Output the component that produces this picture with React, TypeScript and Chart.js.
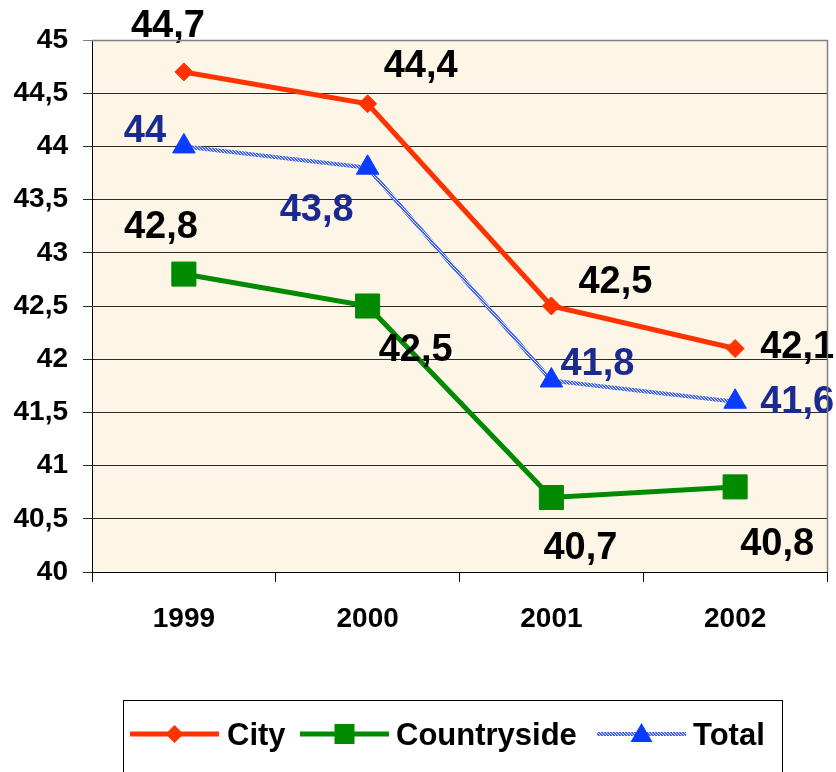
import React, { useEffect, useRef } from "react";
import { Chart, registerables } from "chart.js";

Chart.register(...registerables);

const years = ["1999", "2000", "2001", "2002"];
const cityValues = [44.7, 44.4, 42.5, 42.1];
const countrysideValues = [42.8, 42.5, 40.7, 40.8];
const totalValues = [44, 43.8, 41.8, 41.6];
const seriesNames = ["City", "Countryside", "Total"];
const yTicks = [40, 40.5, 41, 41.5, 42, 42.5, 43, 43.5, 44, 44.5, 45];

// label offsets (dx, baseline dy) relative to each point, in px
const labelOffsets = [
  [[-16, -35], [53, -27], [64, -13], [62, 9]],
  [[-23, -36], [48, 55], [29, 61], [42, 68]],
  [[-39, -4], [-51, 53], [46, -5], [62, 11]],
];
const labelColors = ["#000000", "#000000", "#1b2a8e"];

const FONT = "'Liberation Sans', Arial, sans-serif";

function makePattern(): CanvasPattern | string {
  const c = document.createElement("canvas");
  c.width = 3;
  c.height = 3;
  const g = c.getContext("2d");
  if (!g) return "#7f98f0";
  g.fillStyle = "#3f62f4";
  g.fillRect(0, 0, 3, 3);
  g.fillStyle = "#dfe6fd";
  g.fillRect(0, 0, 1, 1);
  g.fillRect(1, 1, 1, 1);
  g.fillRect(2, 2, 1, 1);
  const p = g.createPattern(c, "repeat");
  return p || "#7f98f0";
}

export default function App() {
  const ref = useRef<HTMLCanvasElement | null>(null);

  useEffect(() => {
    const canvas = ref.current;
    if (!canvas) return;
    const totalPattern = makePattern();

    const bgPlugin = {
      id: "bg",
      beforeDraw(chart: any) {
        const { ctx, chartArea } = chart;
        ctx.save();
        ctx.fillStyle = "#ffffff";
        ctx.fillRect(0, 0, chart.width, chart.height);
        ctx.fillStyle = "#fdf6e7";
        ctx.fillRect(chartArea.left, chartArea.top, chartArea.right - chartArea.left, chartArea.bottom - chartArea.top);
        ctx.restore();
      },
      afterDatasetsDraw(chart: any) {
        const { ctx } = chart;
        ctx.save();
        ctx.font = `bold 38px ${FONT}`;
        ctx.textAlign = "center";
        ctx.textBaseline = "alphabetic";
        chart.data.datasets.forEach((ds: any, di: number) => {
          const meta = chart.getDatasetMeta(di);
          meta.data.forEach((pt: any, i: number) => {
            const v = ds.data[i];
            const [dx, dy] = labelOffsets[di][i];
            ctx.fillStyle = labelColors[di];
            ctx.fillText(String(v).replace(".", ","), pt.x + dx, pt.y + dy);
          });
        });
        ctx.restore();
      },
      afterDraw(chart: any) {
        const { ctx, chartArea } = chart;
        ctx.save();
        // plot frame (top/right)
        ctx.strokeStyle = "#808080";
        ctx.lineWidth = 1.5;
        ctx.beginPath();
        ctx.moveTo(chartArea.left, chartArea.top + 0.5);
        ctx.lineTo(chartArea.right + 0.5, chartArea.top + 0.5);
        ctx.lineTo(chartArea.right + 0.5, chartArea.bottom);
        ctx.stroke();

        // legend
        ctx.strokeStyle = "#000000";
        ctx.lineWidth = 1;
        ctx.strokeRect(123.5, 700.5, 659, 80);
        const ly = 734;
        const lineStarts = [130, 300, 597];
        const lineLen = 89;
        const textStarts = [227, 396, 693];
        chart.data.datasets.forEach((ds: any, di: number) => {
          const x0 = lineStarts[di];
          const x1 = x0 + lineLen;
          const cx = (x0 + x1) / 2;
          ctx.strokeStyle = ds.borderColor;
          ctx.lineWidth = di === 2 ? 4 : 5;
          ctx.beginPath();
          ctx.moveTo(x0, ly);
          ctx.lineTo(x1, ly);
          ctx.stroke();
          ctx.fillStyle = ds.pointBackgroundColor;
          ctx.beginPath();
          if (di === 0) {
            ctx.moveTo(cx, ly - 9);
            ctx.lineTo(cx + 9, ly);
            ctx.lineTo(cx, ly + 9);
            ctx.lineTo(cx - 9, ly);
            ctx.closePath();
          } else if (di === 1) {
            ctx.rect(cx - 10, ly - 10, 20, 20);
          } else {
            ctx.moveTo(cx, ly - 11);
            ctx.lineTo(cx + 11, ly + 8);
            ctx.lineTo(cx - 11, ly + 8);
            ctx.closePath();
          }
          ctx.fill();
          ctx.fillStyle = "#000000";
          ctx.font = `bold 31px ${FONT}`;
          ctx.textAlign = "left";
          ctx.textBaseline = "alphabetic";
          ctx.fillText(ds.label, textStarts[di], 745);
        });
        ctx.restore();
      },
    };

    const chart = new Chart(canvas, {
      type: "line",
      data: {
        labels: years,
        datasets: [
          {
            label: seriesNames[0],
            data: cityValues,
            borderColor: "#ff3300",
            backgroundColor: "#ff3300",
            pointBackgroundColor: "#ff3300",
            pointBorderColor: "#ff3300",
            borderWidth: 5,
            pointStyle: "rectRot",
            pointRadius: 9,
            pointBorderWidth: 1,
            tension: 0,
            order: 1,
          },
          {
            label: seriesNames[1],
            data: countrysideValues,
            borderColor: "#008a00",
            backgroundColor: "#008a00",
            pointBackgroundColor: "#008a00",
            pointBorderColor: "#008a00",
            borderWidth: 5,
            pointStyle: "rect",
            pointRadius: 17,
            pointBorderWidth: 1,
            tension: 0,
            order: 2,
          },
          {
            label: seriesNames[2],
            data: totalValues,
            borderColor: totalPattern as any,
            backgroundColor: "#0a3cff",
            pointBackgroundColor: "#0a3cff",
            pointBorderColor: "#0a3cff",
            borderWidth: 4,
            pointStyle: "triangle",
            pointRadius: 13,
            pointBorderWidth: 1,
            tension: 0,
            order: 3,
          },
        ],
      },
      options: {
        responsive: false,
        animation: false,
        events: [],
        layout: { autoPadding: false, padding: { top: 40, right: 9, left: 0, bottom: 0 } },
        plugins: {
          legend: { display: false },
          tooltip: { enabled: false },
          title: { display: false },
        },
        scales: {
          x: {
            type: "category",
            offset: true,
            grid: {
              offset: true,
              drawOnChartArea: false,
              drawTicks: true,
              tickLength: 10,
              color: "#000000",
              lineWidth: 1,
            },
            border: { display: true, color: "#000000", width: 1 },
            ticks: {
              color: "#000000",
              font: { family: FONT, size: 28, weight: "bold" },
              padding: 20,
              maxRotation: 0,
              autoSkip: false,
            },
            afterFit(scale: any) {
              scale.height = 200;
            },
          },
          y: {
            min: 40,
            max: 45,
            afterBuildTicks(scale: any) {
              scale.ticks = yTicks.map((v) => ({ value: v }));
            },
            grid: {
              color: (c: any) => (c.tick && c.tick.value === 45 ? "#808080" : "#2a2a2a"),
              lineWidth: 1,
              tickLength: 9,
              drawTicks: true,
            },
            border: { display: true, color: "#000000", width: 1 },
            ticks: {
              color: "#000000",
              font: { family: FONT, size: 28, weight: "bold" },
              padding: 15,
              callback: (v: any) => String(v).replace(".", ","),
            },
            afterFit(scale: any) {
              scale.width = 92;
            },
          },
        },
      },
      plugins: [bgPlugin],
    });
    return () => chart.destroy();
  }, []);

  return (
    <div style={{ position: "fixed", left: 0, top: 0, width: 836, height: 772, background: "#fff" }}>
      <canvas ref={ref} width={836} height={772} style={{ display: "block", width: 836, height: 772 }} />
    </div>
  );
}
